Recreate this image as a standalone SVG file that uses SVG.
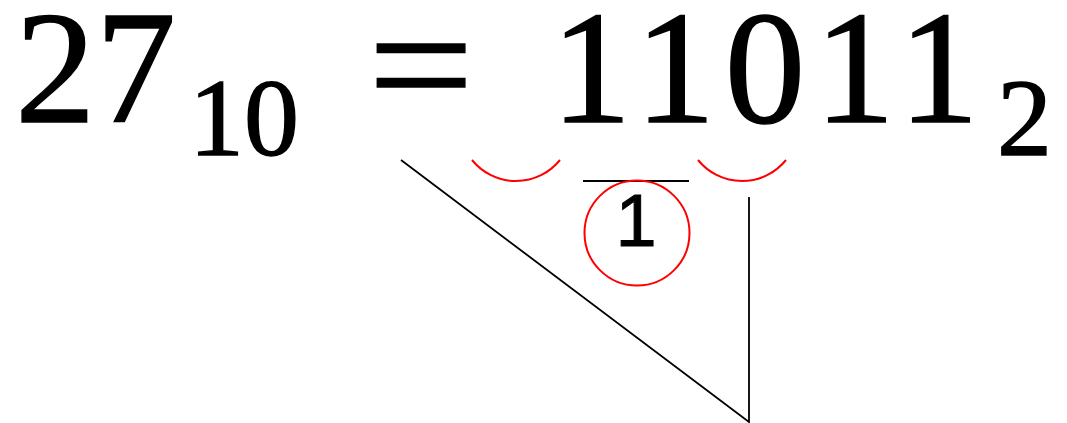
<svg xmlns="http://www.w3.org/2000/svg" width="1067" height="423" viewBox="0 0 1067 423">
<style>
.m{font-family:"Liberation Serif","DejaVu Serif",serif;fill:#000;stroke:#000;stroke-width:1.4}
.red{fill:none;stroke:#ff0000;stroke-width:2}
.ln{stroke:#000;stroke-width:1.8;fill:none}
</style>
<rect width="1067" height="423" fill="#fff"/>
<g id="equation">
<text class="m" x="15" y="122" font-size="161">27</text>
<text class="m" x="189" y="155" font-size="110">10</text>
<text class="m" x="368" y="123" font-size="172" textLength="106" lengthAdjust="spacingAndGlyphs" stroke-width="4">=</text>
<text class="m" x="551" y="122" font-size="161" textLength="428" lengthAdjust="spacing">11011</text>
<text class="m" x="997" y="155" font-size="110">2</text>
</g>
<g id="carry">
<path class="red" d="M472,160 A56.6,56.6 0 0 0 560,160"/>
<path class="red" d="M698,160 A56.6,56.6 0 0 0 786,160"/>
<line class="ln" x1="583" y1="181" x2="689" y2="181" stroke-width="2.2"/>
<circle class="red" cx="637" cy="233" r="52.5"/>
<text x="636" y="246" font-size="74" text-anchor="middle" font-family="'Liberation Sans', Arial, Roboto, sans-serif" fill="#000" stroke="#000" stroke-width="1">1</text>
</g>
<g id="connectors">
<polyline class="ln" points="401,160 749,422 749,197"/>
</g>
</svg>
